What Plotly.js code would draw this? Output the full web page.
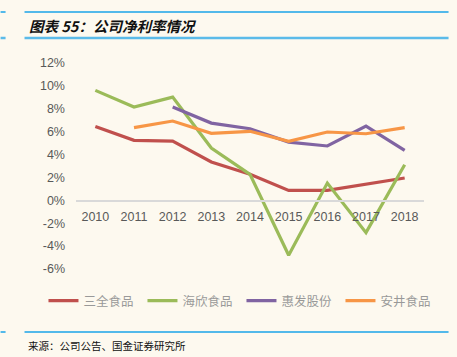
<!DOCTYPE html>
<html><head><meta charset="utf-8">
<script src="https://cdn.plot.ly/plotly-3.0.1.min.js"></script>
<style>html,body{margin:0;padding:0;background:#fdf9ef;}#c{width:457px;height:357px;}</style>
</head><body><div id="c"></div>
<script>
const years = ['2010','2011','2012','2013','2014','2015','2016','2017','2018'];
const sanquan = [6.46, 5.24, 5.18, 3.35, 2.27, 0.87, 0.87, 1.40, 1.95];
const haixin  = [9.61, 8.15, 9.02, 4.57, 2.27, -4.80, 1.51, -2.82, 3.11];
const huifa   = [null, null, 8.15, 6.75, 6.26, 5.09, 4.75, 6.49, 4.37];
const anjing  = [null, 6.35, 6.93, 5.85, 6.03, 5.15, 5.97, 5.82, 6.35];
const names = ['三全食品','海欣食品','惠发股份','安井食品'];
const colors = ['#c0504d','#9bbb59','#8064a2','#f79646'];
const yTickVals = [-6,-4,-2,0,2,4,6,8,10,12];
const yTickText = ['-6%','-4%','-2%','0%','2%','4%','6%','8%','10%','12%'];

const series = [sanquan, haixin, huifa, anjing];
const traces = series.map((s,i)=>({
  x: years, y: s, type:'scatter', mode:'lines', name: names[i],
  line:{color:colors[i], width:3.2}, connectgaps:false
}));

const W=457,H=357,L=75.6,R=424.4,T=63,B=269;
const px = v => (v-L)/(R-L);
const py = v => (B-v)/(B-T);

const layout = {
  width:W, height:H,
  paper_bgcolor:'#fdf9ef', plot_bgcolor:'#fdf9ef',
  margin:{l:L, r:W-R, t:T, b:H-B, pad:0, autoexpand:false},
  font:{family:'Liberation Sans, Arial, sans-serif', color:'#595959', size:12},
  showlegend:true,
  legend:{orientation:'h', x:px(43), xanchor:'left', y:py(301), yanchor:'middle',
    font:{family:'Noto Sans CJK SC', size:12.5, color:'#999999'}, itemwidth:30,
    entrywidth:54, entrywidthmode:'pixels', tracegroupgap:0,
    bgcolor:'rgba(0,0,0,0)'},
  xaxis:{type:'category', range:[-0.5,8.5], anchor:'free', position:py(200),
    showline:true, linecolor:'#d9d9d9', linewidth:1.5, showgrid:false, zeroline:false,
    ticks:'', tickfont:{size:12.5, color:'#595959'}, ticklabelstandoff:4, fixedrange:true},
  yaxis:{range:[-6,12], tickvals:yTickVals, ticktext:yTickText, showgrid:false,
    zeroline:false, showline:false, ticks:'', tickfont:{size:12.5, color:'#595959'},
    ticklabelstandoff:10, fixedrange:true},
  shapes:[
    {type:'line', xref:'paper', yref:'paper', x0:px(24), x1:px(449), y0:py(12), y1:py(12), line:{color:'#1aa3e8', width:1.5}},
    {type:'line', xref:'paper', yref:'paper', x0:px(0), x1:px(5), y0:py(12), y1:py(12), line:{color:'#1aa3e8', width:1.5}},
    {type:'line', xref:'paper', yref:'paper', x0:px(24), x1:px(449), y0:py(38), y1:py(38), line:{color:'#5bbbe9', width:2.5}},
    {type:'line', xref:'paper', yref:'paper', x0:px(0), x1:px(5), y0:py(38), y1:py(38), line:{color:'#5bbbe9', width:2.5}},
    {type:'line', xref:'paper', yref:'paper', x0:px(24), x1:px(449), y0:py(332), y1:py(332), line:{color:'#1aa3e8', width:1.5}},
    {type:'line', xref:'paper', yref:'paper', x0:px(0), x1:px(5), y0:py(332), y1:py(332), line:{color:'#1aa3e8', width:1.5}}
  ],
  annotations:[
    {xref:'paper', yref:'paper', x:px(26), y:py(25), xanchor:'left', yanchor:'middle', showarrow:false,
     text:'<b><i>图表 55：公司净利率情况</i></b>', font:{family:'Noto Sans CJK SC', size:14.5, color:'#111'}},
    {xref:'paper', yref:'paper', x:px(25), y:py(345), xanchor:'left', yanchor:'middle', showarrow:false,
     text:'来源：公司公告、国金证券研究所', font:{family:'Noto Sans CJK SC', size:10.5, color:'#111'}}
  ]
};
Plotly.newPlot('c', traces, layout, {displayModeBar:false, staticPlot:true});
</script></body></html>
